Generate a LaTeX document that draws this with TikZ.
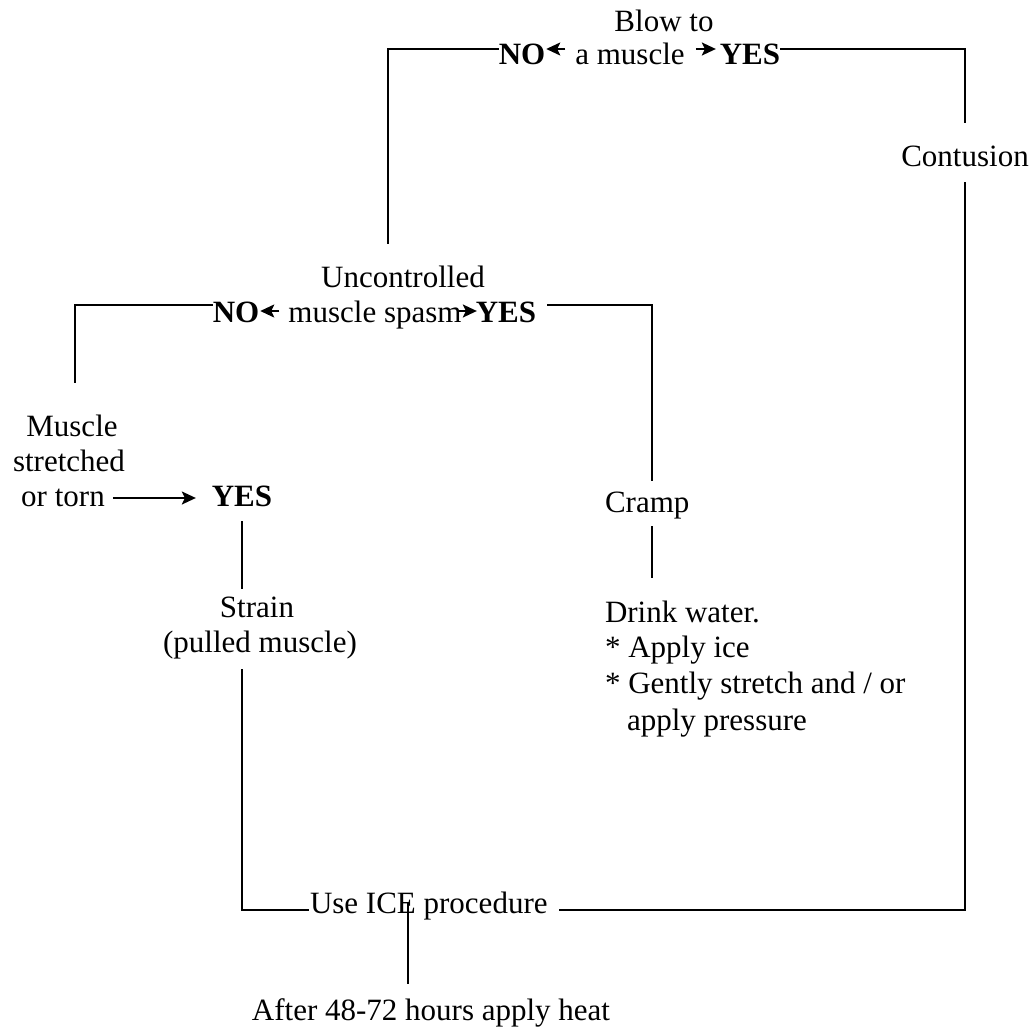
\documentclass[tikz,border=0pt]{standalone}
\usepackage{fontspec}
\setmainfont{Liberation Serif}
\usetikzlibrary{arrows.meta,calc}
\newcommand\chartfont{\fontsize{31}{35}\selectfont}
\tikzset{
  lbl/.style={inner sep=0pt, outer sep=0pt, anchor=base, font=\chartfont},
  lblw/.style={lbl, anchor=base west},
  ans/.style={lbl, font=\chartfont\bfseries},
  link/.style={line width=1.8pt, line cap=rect},
  tip/.style={line width=1.8pt, -{Stealth[length=14pt,width=13pt,inset=3pt]}}
}
\begin{document}
\begin{tikzpicture}[x=1pt,y=-1pt]
\useasboundingbox[fill=white] (0,0) rectangle (1034,1035);

% --- first question: blow to a muscle
\node[lbl] (blow) at (664,32) {Blow to};
\node[lbl] (amus) at (630,65) {a muscle};
\node[ans] (no1) at (522,65) {NO};
\node[ans] (yes1) at (750,65) {YES};
\draw[tip] ($(amus.base west)+(-10,-16)$) -- ($(no1.base east)+(1,-16)$);
\draw[tip] ($(yes1.base west)+(-24,-16)$) -- ($(yes1.base west)+(-4,-16)$);

\coordinate (topL) at (388,243);
\coordinate (topR) at (965,122);
\draw[link] ($(no1.base west)+(-1,-16)$) -| (topL);
\draw[link] ($(yes1.base east)+(1,-16)$) -| (topR);

\node[lbl] (cont) at (965,167) {Contusion};

% --- second question: uncontrolled muscle spasm
\node[lbl] (unc) at (403,287) {Uncontrolled};
\node[lbl] (msp) at (375,322) {muscle spasm};
\node[ans] (no2) at (236,322) {NO};
\node[ans] (yes2) at (506,322) {YES};
\draw[tip] ($(msp.base west)+(-9,-11)$) -- ($(no2.base east)+(1,-11)$);
\draw[tip] ($(msp.base east)+(-3,-11)$) -- ($(yes2.base west)+(1,-11)$);

\coordinate (midL) at (75,382);
\coordinate (midR) at (652,480);
\draw[link] ($(no2.base west)+(-1,-17)$) -| (midL);
\draw[link] ($(yes2.base east)+(12,-17)$) -| (midR);

% --- third question: muscle stretched or torn
\node[lbl] (m1) at (72,436) {Muscle};
\node[lbl] (m2) at (69,471) {stretched};
\node[lbl] (m3) at (63,506) {or torn};
\node[ans] (yes3) at (242,506) {YES};
\draw[tip] ($(m3.base east)+(8,-8)$) -- ($(yes3.base west)+(-16,-8)$);

% --- strain branch
\node[lbl] (strain) at (257,617) {Strain};
\node[lbl] (pulled) at (260,652) {(pulled muscle)};
\draw[link] ($(yes3.base)+(0,16)$) -- ($(yes3.base |- strain.base)+(0,-29)$);

% --- cramp branch
\node[lblw] (cramp) at (605,512) {Cramp};
\draw[link] ($(cramp.base west)+(47,15)$) -- ($(cramp.base west)+(47,65)$);
\node[lblw] (drink) at (605,622) {Drink water.};
\node[lblw] (aice) at (605,657) {* Apply ice};
\node[lblw] (gent) at (605,693) {* Gently stretch and / or};
\node[lblw] (press) at (627,730) {apply pressure};

% --- common treatment
\node[lblw] (ice) at (310,913) {Use ICE procedure};
\node[lbl] (heat) at (431,1020) {After 48-72 hours apply heat};

\coordinate (botR) at (965,910);
\draw[link] ($(yes3.base |- pulled.base)+(0,18)$) |- ($(ice.base west)+(-2,-3)$);
\draw[link] ($(cont.base)+(0,16)$) -- (botR) -- ($(ice.base east)+(12,-3)$);
\draw[link] ($(ice.base west)+(98,-10)$) -- ($(ice.base west)+(98,70)$);
\end{tikzpicture}
\end{document}
